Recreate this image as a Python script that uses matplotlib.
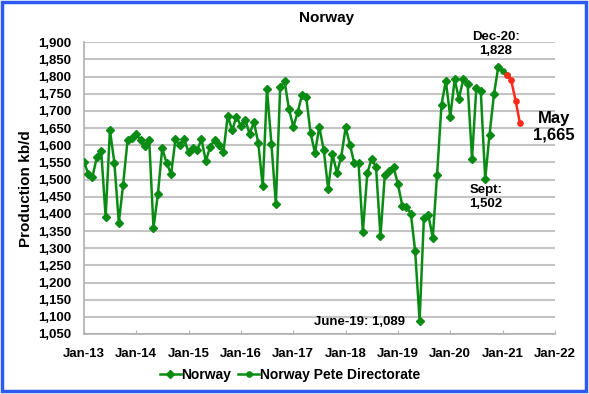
import matplotlib
matplotlib.use("Agg")
import matplotlib.pyplot as plt
import matplotlib.dates as mdates
from matplotlib.patches import Rectangle
from matplotlib.ticker import FuncFormatter, MultipleLocator
import pandas as pd

plt.rcParams['font.family'] = ['Liberation Sans', 'DejaVu Sans']
plt.rcParams['font.weight'] = 'bold'

norway = [1552, 1515, 1508, 1566, 1584, 1390, 1644, 1549, 1374, 1485, 1615, 1620,
          1632, 1615, 1599, 1615, 1359, 1459, 1592, 1547, 1516, 1617, 1600, 1617,
          1580, 1592, 1586, 1617, 1554, 1596, 1615, 1600, 1580, 1686, 1644, 1683,
          1656, 1675, 1633, 1667, 1607, 1481, 1763, 1604, 1428, 1769, 1786, 1706,
          1654, 1697, 1745, 1740, 1636, 1578, 1654, 1586, 1473, 1574, 1520, 1566,
          1652, 1600, 1549, 1547, 1347, 1518, 1561, 1536, 1335, 1512, 1524, 1537,
          1487, 1422, 1421, 1401, 1292, 1089, 1388, 1397, 1331, 1514, 1718, 1788,
          1683, 1792, 1736, 1792, 1778, 1561, 1767, 1757, 1502, 1631, 1748, 1828]
npd_dates = ['2020-12-01', '2021-01-01', '2021-02-01']
npd = [1828, 1817, 1806]
proj_dates = ['2021-02-01', '2021-03-01', '2021-04-01', '2021-05-01']
proj = [1806, 1790, 1730, 1665]
year_ticks = ['Jan-13', 'Jan-14', 'Jan-15', 'Jan-16', 'Jan-17', 'Jan-18',
              'Jan-19', 'Jan-20', 'Jan-21', 'Jan-22']

dates = pd.date_range('2013-01-01', periods=len(norway), freq='MS')
W, H = 589, 394
fig = plt.figure(figsize=(W / 100, H / 100), dpi=100)
ax = fig.add_axes([84 / W, 1 - 334 / H, (555 - 84) / W, (334 - 42.3) / H])

green = '#0A8C14'
ax.plot(dates, norway, color=green, lw=1.8, marker='D', ms=3.8, label='Norway', zorder=3)
ax.plot(pd.to_datetime(npd_dates), npd, color=green, lw=1.8, marker='o', ms=3.8,
        label='Norway Pete Directorate', zorder=3)
ax.plot(pd.to_datetime(proj_dates), proj, color='#FF2A1A', lw=1.8, marker='o', ms=3.8, zorder=4)

ax.set_ylim(1050, 1900)
ax.yaxis.set_major_locator(MultipleLocator(50))
ax.yaxis.set_major_formatter(FuncFormatter(lambda v, p: f'{int(v):,}'))
tick_dates = pd.to_datetime([f'20{t[-2:]}-01-01' for t in year_ticks])
ax.set_xlim(tick_dates[0], tick_dates[-1])
ax.set_xticks(tick_dates)
ax.set_xticklabels(year_ticks)
ax.grid(axis='y', color='#C4C4C4', lw=1.5, zorder=0)
ax.set_axisbelow(True)
for s in ['top', 'right']:
    ax.spines[s].set_visible(False)
for s in ['left', 'bottom']:
    ax.spines[s].set_color('#B0B0B0')
    ax.spines[s].set_linewidth(1.2)
ax.tick_params(axis='y', length=0, labelsize=9.5, pad=9)
ax.tick_params(axis='x', direction='in', length=3, color='#B0B0B0', labelsize=9.5, pad=10)
for lab in ax.get_xticklabels() + ax.get_yticklabels():
    lab.set_fontweight('bold')
ax.set_ylabel('Production kb/d', fontsize=11, fontweight='bold', labelpad=4)

fig.text(327 / W, 1 - 18 / H, 'Norway', ha='center', va='center', fontsize=11, fontweight='bold')
fig.text(496 / W, 1 - 44 / H, 'Dec-20:\n1,828', ha='center', va='center', fontsize=9.5,
         fontweight='bold', linespacing=1.15)
fig.text(486 / W, 1 - 197 / H, 'Sept:\n1,502', ha='center', va='center', fontsize=9.5,
         fontweight='bold', linespacing=1.15)
fig.text(554 / W, 1 - 127 / H, 'May\n1,665', ha='center', va='center', fontsize=12,
         fontweight='bold', linespacing=1.1)
fig.text(360 / W, 1 - 322 / H, 'June-19: 1,089', ha='center', va='center', fontsize=9.5,
         fontweight='bold')

leg = fig.legend(loc='center', bbox_to_anchor=(290 / W, 1 - 375 / H), ncol=2, frameon=False,
                 fontsize=10, handlelength=1.5, columnspacing=0.5, handletextpad=0.05)
for t in leg.get_texts():
    t.set_fontweight('bold')

fig.patches.append(Rectangle((1.5 / W, 3 / H), (W - 5) / W, (H - 4.5) / H, transform=fig.transFigure,
                             fill=False, edgecolor='#2D5BF2', lw=2.5))
fig.savefig('out.png', dpi=100)
